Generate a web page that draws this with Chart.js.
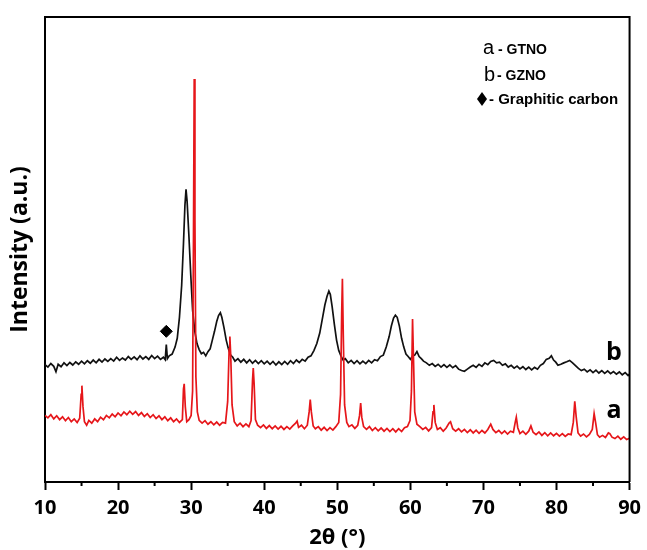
<!DOCTYPE html>
<html>
<head>
<meta charset="utf-8">
<script src="https://cdn.jsdelivr.net/npm/chart.js@4/dist/chart.umd.min.js"></script>
<style>
  html, body { margin: 0; padding: 0; background: #fff; }
  #wrap { width: 647px; height: 550px; }
</style>
</head>
<body>
<div id="wrap"><canvas id="xrdChart" width="647" height="550"></canvas></div>
<script>
// a - GTNO (red trace), 2theta in degrees, intensity in arbitrary units
const angleA = [10.0,10.4,10.8,11.2,11.6,12.0,12.4,12.8,13.2,13.6,14.0,14.4,14.75,14.95,15.05,15.2,15.4,15.7,16.0,16.4,
  16.8,17.2,17.6,18.0,18.4,18.8,19.2,19.6,20.0,20.4,20.8,21.2,21.6,22.0,22.4,22.8,23.2,23.6,24.0,24.4,
  24.8,25.2,25.6,26.0,26.4,26.8,27.2,27.6,28.0,28.4,28.8,28.95,29.05,29.2,29.4,29.7,30.0,30.2,30.32,30.42,
  30.52,30.65,30.85,31.1,31.5,31.9,32.3,32.7,33.1,33.5,33.9,34.3,34.7,35.0,35.2,35.3,35.42,35.6,35.9,36.3,
  36.7,37.1,37.5,37.9,38.2,38.4,38.5,38.62,38.8,39.1,39.5,39.9,40.3,40.7,41.1,41.5,41.9,42.3,42.7,43.1,
  43.5,43.9,44.3,44.5,44.7,45.1,45.5,45.9,46.15,46.3,46.45,46.7,47.0,47.4,47.8,48.2,48.6,49.0,49.4,49.8,
  50.2,50.45,50.6,50.7,50.82,51.0,51.3,51.6,52.0,52.4,52.8,53.05,53.2,53.35,53.6,54.0,54.4,54.8,55.2,55.6,
  56.0,56.4,56.8,57.2,57.6,58.0,58.4,58.8,59.2,59.6,59.95,60.15,60.3,60.42,60.6,60.9,61.3,61.7,62.1,62.5,
  62.9,63.1,63.22,63.4,63.7,64.1,64.5,64.9,65.3,65.5,65.8,66.2,66.6,67.0,67.4,67.8,68.2,68.6,69.0,69.4,
  69.8,70.2,70.6,71.0,71.3,71.7,72.1,72.5,72.9,73.3,73.7,74.1,74.35,74.5,74.7,75.0,75.4,75.8,76.2,76.5,
  76.8,77.2,77.6,78.0,78.4,78.8,79.2,79.6,80.0,80.4,80.8,81.2,81.6,82.0,82.3,82.5,82.7,82.95,83.3,83.7,
  84.1,84.5,84.9,85.15,85.35,85.6,85.9,86.3,86.7,87.1,87.3,87.6,88.0,88.4,88.8,89.2,89.6,90.0];
const intensityA = [190,183,192,180,189,178,186,175,184,172,180,170,182,250,275,215,172,162,176,168,
  180,172,185,178,190,183,194,186,197,189,200,192,202,193,201,190,198,187,195,184,
  192,181,189,178,186,175,183,172,180,170,178,265,280,215,172,178,190,260,700,1150,
  750,300,200,176,168,175,165,172,163,171,162,170,168,230,380,415,360,220,172,160,
  168,158,166,158,175,290,325,280,178,162,155,163,153,161,152,160,151,159,150,158,
  151,160,168,174,156,162,152,162,200,235,200,160,152,158,148,156,147,155,148,158,
  170,250,480,580,420,220,170,158,163,153,162,190,225,185,158,150,158,147,155,146,
  154,145,153,144,152,143,152,144,155,158,175,260,465,360,200,165,158,150,156,146,
  155,200,220,170,150,155,145,154,168,172,152,145,152,143,150,141,149,140,148,139,
  147,140,150,165,150,141,147,138,146,137,145,142,170,185,155,138,145,136,145,160,
  142,135,143,133,141,132,140,132,139,131,138,130,137,135,170,230,185,140,131,137,
  129,136,150,195,170,135,128,133,127,140,138,128,124,131,122,129,121,125];

// b - GZNO (black trace)
const angleB = [10.0,10.4,10.8,11.2,11.5,11.8,12.2,12.6,13.0,13.4,13.8,14.2,14.6,15.0,15.4,15.8,16.2,16.6,17.0,17.4,
  17.8,18.2,18.6,19.0,19.4,19.8,20.2,20.6,21.0,21.4,21.8,22.2,22.6,23.0,23.4,23.8,24.2,24.6,25.0,25.4,
  25.8,26.2,26.45,26.6,26.75,27.0,27.4,27.8,28.1,28.4,28.7,28.95,29.15,29.3,29.45,29.7,29.95,30.2,30.5,30.8,
  31.1,31.4,31.7,32.0,32.3,32.6,32.9,33.2,33.5,33.75,34.0,34.2,34.5,34.8,35.1,35.4,35.7,36.0,36.4,36.8,
  37.2,37.6,38.0,38.4,38.8,39.2,39.6,40.0,40.4,40.8,41.2,41.6,42.0,42.4,42.8,43.2,43.6,44.0,44.4,44.8,
  45.2,45.6,46.0,46.4,46.8,47.2,47.6,47.95,48.3,48.6,48.85,49.05,49.3,49.6,49.9,50.2,50.5,50.8,51.1,51.5,
  51.9,52.3,52.7,53.1,53.5,53.9,54.3,54.7,55.1,55.5,55.9,56.3,56.7,57.1,57.4,57.7,57.95,58.2,58.5,58.8,
  59.1,59.4,59.7,60.0,60.3,60.6,60.9,61.2,61.5,61.8,62.2,62.6,63.0,63.4,63.8,64.2,64.6,65.0,65.4,65.8,
  66.2,66.6,67.0,67.4,67.8,68.2,68.6,69.0,69.4,69.8,70.2,70.6,71.0,71.4,71.8,72.2,72.6,73.0,73.4,73.8,
  74.2,74.6,75.0,75.4,75.8,76.2,76.6,77.0,77.4,77.8,78.2,78.6,79.0,79.3,79.6,79.9,80.2,80.6,81.0,81.4,
  81.8,82.2,82.6,83.0,83.4,83.8,84.2,84.6,85.0,85.4,85.8,86.2,86.6,87.0,87.4,87.8,88.2,88.6,89.0,89.4,
  89.8,90.0];
const intensityB = [335,328,338,330,315,336,329,340,332,341,334,343,336,345,337,346,339,348,340,350,
  342,351,344,352,345,356,347,354,348,358,350,357,349,360,351,358,350,361,352,359,
  350,356,349,392,352,360,365,385,410,470,560,680,790,835,800,700,590,490,430,395,
  378,366,370,360,372,380,405,430,458,475,483,470,440,405,380,362,356,345,352,342,
  350,340,349,339,347,338,346,337,345,336,344,334,343,335,344,336,346,338,348,341,
  350,345,356,360,375,395,425,465,505,530,545,535,500,450,405,375,360,348,352,340,
  347,338,346,337,345,338,347,340,349,346,358,362,385,415,445,468,476,470,445,410,
  385,365,358,350,360,362,372,358,352,345,340,333,338,330,336,328,335,327,334,326,
  332,322,318,316,322,328,333,327,336,330,340,335,344,347,340,342,333,337,328,333,
  325,331,323,329,321,328,320,327,322,333,338,350,353,360,348,342,333,336,340,343,
  347,340,332,324,318,322,314,320,312,319,311,318,310,317,309,315,308,314,306,312,
  304,308];

// graphitic carbon marker (diamond)
const carbonAngle = [26.6];
const carbonIntensity = [430];

// axis settings
const xMin = 10, xMax = 90, xStep = 5;
const yMin = 0, yMax = 1327;

const RED = "rgb(230,22,26)";
const FONT = "'Open Sans', 'DejaVu Sans', sans-serif";

function toPoints(xs, ys){
  return xs.map((x, i) => ({ x: x, y: ys[i] }));
}

// box frame, short minor ticks and the text annotations
const extrasPlugin = {
  id: "extras",
  afterDraw(chart){
    const { ctx, chartArea: ca, scales } = chart;
    ctx.save();
    // frame (top and right sides)
    ctx.strokeStyle = "#000";
    ctx.lineWidth = 2;
    ctx.beginPath();
    ctx.moveTo(ca.left, ca.top);
    ctx.lineTo(ca.right, ca.top);
    ctx.lineTo(ca.right, ca.bottom);
    ctx.stroke();

    // minor ticks
    const xs = scales.x;
    xs.ticks.forEach(t => {
      if (t.value % 10 !== 0) {
        const px = xs.getPixelForValue(t.value);
        ctx.beginPath();
        ctx.moveTo(px, ca.bottom);
        ctx.lineTo(px, ca.bottom + 4);
        ctx.stroke();
      }
    });

    // legend text
    ctx.fillStyle = "#000";
    ctx.textBaseline = "alphabetic";
    ctx.textAlign = "left";
    ctx.font = "20px 'Liberation Sans', Arial, sans-serif";
    ctx.fillText("a", 483, 54);
    ctx.fillText("b", 484, 81);
    ctx.font = "bold 14px 'Liberation Sans', Arial, sans-serif";
    ctx.fillText("- GTNO", 498, 54);
    ctx.fillText("- GZNO", 497, 80);
    ctx.font = "bold 15px 'Liberation Sans', Arial, sans-serif";
    ctx.fillText("- Graphitic carbon", 489, 104);
    // legend diamond
    ctx.beginPath();
    ctx.moveTo(482, 92);
    ctx.lineTo(487, 99);
    ctx.lineTo(482, 106);
    ctx.lineTo(477, 99);
    ctx.closePath();
    ctx.fill();

    // curve labels
    ctx.textAlign = "center";
    ctx.font = "bold 25px " + FONT;
    ctx.fillText("b", 614, 360);
    ctx.fillText("a", 614, 418);
    ctx.restore();
  }
};

const chart = new Chart(document.getElementById("xrdChart").getContext("2d"), {
  type: "line",
  data: {
    datasets: [
      {
        label: "a - GTNO",
        data: toPoints(angleA, intensityA),
        borderColor: RED,
        borderWidth: 1.7,
        pointRadius: 0,
        tension: 0,
        fill: false
      },
      {
        label: "b - GZNO",
        data: toPoints(angleB, intensityB),
        borderColor: "#111",
        borderWidth: 1.7,
        pointRadius: 0,
        tension: 0,
        fill: false
      },
      {
        label: "Graphitic carbon",
        data: toPoints(carbonAngle, carbonIntensity),
        showLine: false,
        pointStyle: "rectRot",
        pointRadius: 6,
        pointBackgroundColor: "#000",
        pointBorderColor: "#000",
        pointBorderWidth: 1
      }
    ]
  },
  options: {
    responsive: false,
    animation: false,
    layout: { padding: { left: 0, right: 14, top: 17, bottom: 0 } },
    plugins: {
      legend: { display: false },
      tooltip: { enabled: false }
    },
    scales: {
      x: {
        type: "linear",
        min: xMin,
        max: xMax,
        afterFit: s => { s.height = 68; },
        border: { display: true, color: "#000", width: 2 },
        grid: {
          drawOnChartArea: false,
          drawTicks: true,
          tickLength: 8,
          tickWidth: 2,
          tickColor: c => (c.tick && c.tick.value % 10 === 0) ? "#000" : "rgba(0,0,0,0)"
        },
        ticks: {
          stepSize: xStep,
          autoSkip: false,
          maxRotation: 0,
          padding: 6,
          color: "#000",
          font: { family: FONT, size: 20, weight: "bold" },
          callback: v => (v % 10 === 0 ? String(v) : "")
        },
        title: {
          display: true,
          text: "2θ (°)",
          color: "#000",
          font: { family: FONT, size: 22, weight: "bold", lineHeight: 1.0 },
          padding: { top: 0, bottom: 1 }
        }
      },
      y: {
        min: yMin,
        max: yMax,
        afterFit: s => { s.width = 45; },
        border: { display: true, color: "#000", width: 2 },
        grid: { display: false },
        ticks: { display: false },
        title: {
          display: true,
          text: "Intensity (a.u.)",
          color: "#000",
          font: { family: FONT, size: 23, weight: "bold", lineHeight: 1.2 },
          padding: { top: 7, bottom: 0 }
        }
      }
    }
  },
  plugins: [extrasPlugin]
});
</script>
</body>
</html>
